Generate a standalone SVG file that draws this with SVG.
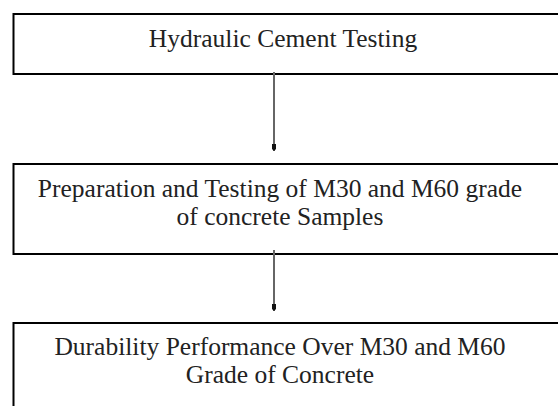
<svg xmlns="http://www.w3.org/2000/svg" width="558" height="406" viewBox="0 0 558 406">
<defs>
<marker id="ah" viewBox="0 0 7 4" refX="7" refY="2" markerWidth="7" markerHeight="4" markerUnits="userSpaceOnUse" orient="auto">
<path d="M0,0 L5,0 L7,2 L5,4 L0,4 Z" fill="#111"/>
</marker>
<style>
.box{fill:#fff;stroke:#000;stroke-width:2}
.t{font-family:"Liberation Serif","Times New Roman",serif;font-size:25.5px;fill:#222;text-anchor:middle}
.c{stroke:#666;stroke-width:2;fill:none}
</style>
</defs>
<rect width="558" height="406" fill="#fff"/>
<g id="n1">
<rect class="box" x="13.5" y="14" width="550" height="60"/>
<text class="t" x="283" y="47">Hydraulic Cement Testing</text>
</g>
<g id="n2">
<rect class="box" x="13.5" y="164" width="550" height="90"/>
<text class="t" x="280" y="197">Preparation and Testing of M30 and M60 grade</text>
<text class="t" x="280" y="225">of concrete Samples</text>
</g>
<g id="n3">
<rect class="box" x="13.5" y="323" width="550" height="100"/>
<text class="t" x="280" y="355">Durability Performance Over M30 and M60</text>
<text class="t" x="280" y="383">Grade of Concrete</text>
</g>
<g id="connectors">
<line class="c" x1="274" y1="72" x2="274" y2="151" marker-end="url(#ah)"/>
<line class="c" x1="274" y1="250" x2="274" y2="311" marker-end="url(#ah)"/>
</g>
</svg>
